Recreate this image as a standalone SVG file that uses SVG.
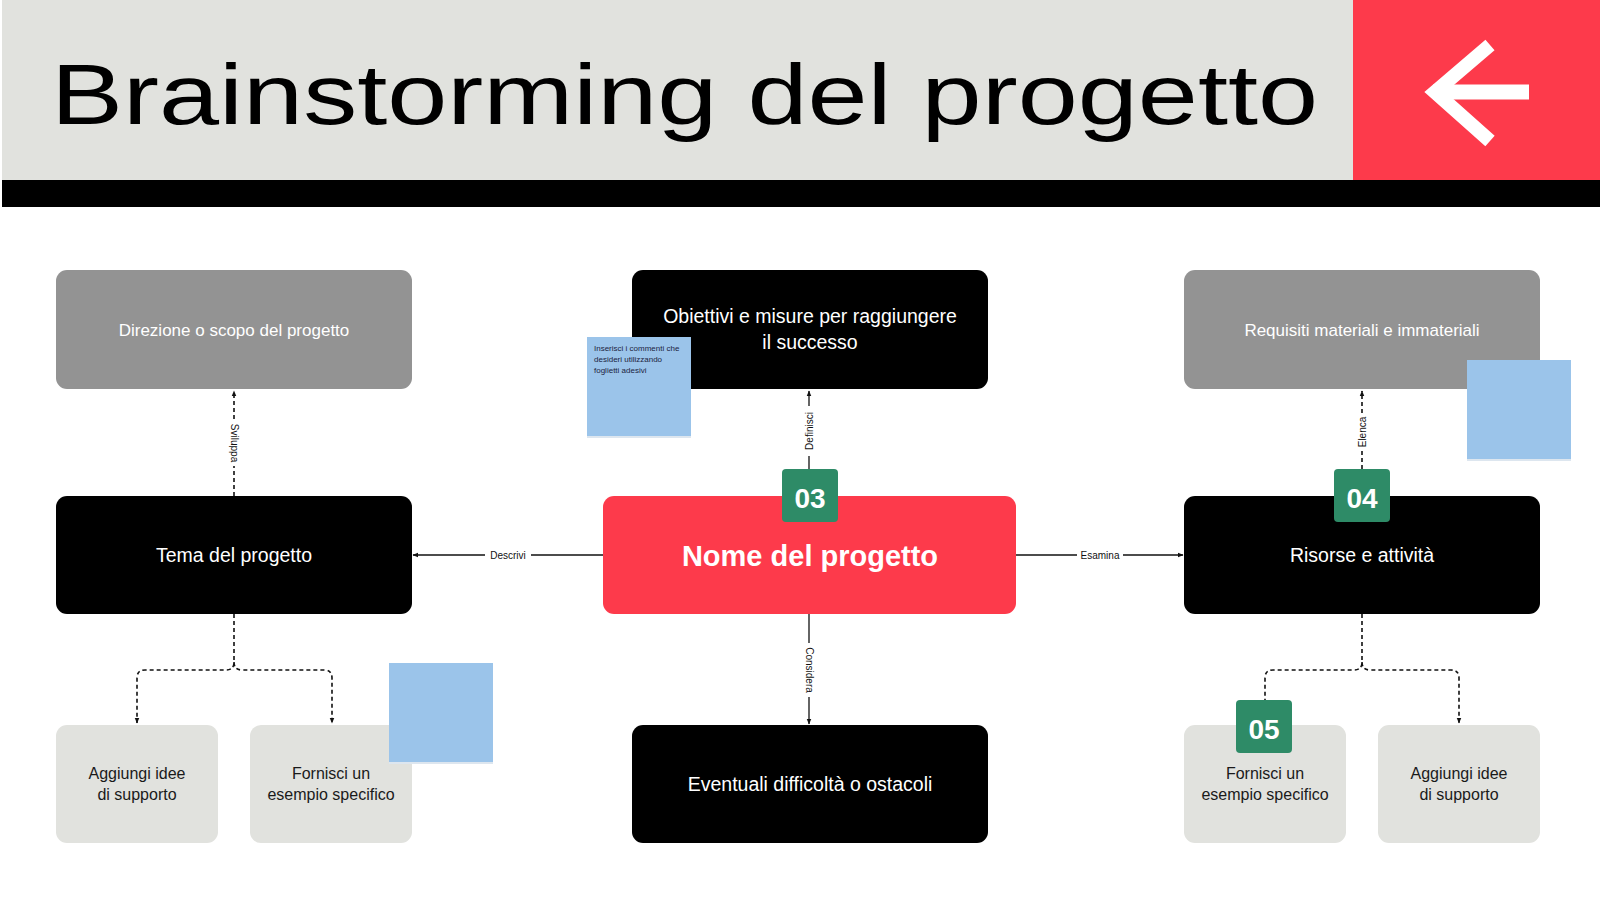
<svg xmlns="http://www.w3.org/2000/svg" width="1600" height="900" viewBox="0 0 1600 900">
<defs>
<style>
.t{font-family:"Liberation Sans",Arial,sans-serif;text-anchor:middle}
.wt{fill:#ffffff;font-size:19.5px}
.dk{fill:#1a1a1a;font-size:16px}
.lbl{font-family:"Liberation Sans",Arial,sans-serif;font-size:10px;fill:#111;text-anchor:middle;dominant-baseline:central}
.ln{fill:none;stroke:#111;stroke-width:1.3}
.ds{fill:none;stroke:#111;stroke-width:1.6;stroke-dasharray:4 3}
.badge{fill:#2e8b67}
.bt{font-family:"Liberation Sans",Arial,sans-serif;font-weight:bold;font-size:28px;fill:#fff;text-anchor:middle}
.sticky{fill:#9bc4ea}
</style>
<marker id="ah" viewBox="0 0 10 10" refX="9" refY="5" markerWidth="6" markerHeight="6" orient="auto-start-reverse" markerUnits="userSpaceOnUse">
<path d="M0,1 L10,5 L0,9 z" fill="#111"/>
</marker>
</defs>
<rect width="1600" height="900" fill="#ffffff"/>
<g id="header">
<rect x="2" y="0" width="1351" height="180" fill="#e1e2de"/>
<rect x="1353" y="0" width="247" height="180" fill="#fd3a4b"/>
<rect x="2" y="180" width="1598" height="27" fill="#000"/>
<text x="51" y="124" font-family="'Liberation Sans',Arial,sans-serif" font-size="86" fill="#000" textLength="1267" lengthAdjust="spacingAndGlyphs">Brainstorming del progetto</text>
<path d="M1490 45 L1435 92 L1490 141" fill="none" stroke="#fff" stroke-width="14"/>
<path d="M1433 92 H1529" fill="none" stroke="#fff" stroke-width="15"/>
</g>
<g id="connectors">
<line class="ln" x1="809" y1="469" x2="809" y2="391" marker-end="url(#ah)"/>
<line class="ln" x1="603" y1="555" x2="413" y2="555" marker-end="url(#ah)"/>
<line class="ln" x1="1016" y1="555" x2="1183" y2="555" marker-end="url(#ah)"/>
<line class="ln" x1="809" y1="614" x2="809" y2="724" marker-end="url(#ah)"/>
<line class="ds" x1="234" y1="496" x2="234" y2="391" marker-end="url(#ah)"/>
<line class="ds" x1="1362" y1="469" x2="1362" y2="391" marker-end="url(#ah)"/>
<path class="ds" d="M234 614 V662 Q234 670 226 670 H145 Q137 670 137 678 V723" marker-end="url(#ah)"/>
<path class="ds" d="M234 662 Q234 670 242 670 H324 Q332 670 332 678 V723" marker-end="url(#ah)"/>
<path class="ds" d="M1362 614 V662 Q1362 670 1354 670 H1273 Q1265 670 1265 678 V702"/>
<path class="ds" d="M1362 662 Q1362 670 1370 670 H1451 Q1459 670 1459 678 V723" marker-end="url(#ah)"/>
<rect x="803" y="406" width="12" height="50" fill="#fff"/>
<text class="lbl" transform="translate(809 431) rotate(-90)">Definisci</text>
<rect x="485" y="549" width="46" height="12" fill="#fff"/>
<text class="lbl" x="508" y="555">Descrivi</text>
<rect x="1077" y="549" width="46" height="12" fill="#fff"/>
<text class="lbl" x="1100" y="555">Esamina</text>
<rect x="803" y="643" width="12" height="54" fill="#fff"/>
<text class="lbl" transform="translate(809 670) rotate(90)">Considera</text>
<rect x="228" y="420" width="12" height="46" fill="#fff"/>
<text class="lbl" transform="translate(234 443) rotate(90)">Sviluppa</text>
<rect x="1356" y="413" width="12" height="38" fill="#fff"/>
<text class="lbl" transform="translate(1362 432) rotate(-90)">Elenca</text>
</g>
<g id="n-direzione">
<rect x="56" y="270" width="356" height="119" rx="11" fill="#939393"/>
<text class="t" x="234" y="336" font-size="17" fill="#fff">Direzione o scopo del progetto</text>
</g>
<g id="n-obiettivi">
<rect x="632" y="270" width="356" height="119" rx="11" fill="#000"/>
<text class="t wt" x="810" y="323">Obiettivi e misure per raggiungere</text>
<text class="t wt" x="810" y="349">il successo</text>
</g>
<g id="n-requisiti">
<rect x="1184" y="270" width="356" height="119" rx="11" fill="#939393"/>
<text class="t" x="1362" y="336" font-size="17" fill="#fff">Requisiti materiali e immateriali</text>
</g>
<g id="n-tema">
<rect x="56" y="496" width="356" height="118" rx="11" fill="#000"/>
<text class="t wt" x="234" y="562">Tema del progetto</text>
</g>
<g id="n-nome">
<rect x="603" y="496" width="413" height="118" rx="11" fill="#fd3a4b"/>
<text class="t" x="810" y="566" font-size="29" font-weight="bold" fill="#fff">Nome del progetto</text>
</g>
<g id="n-risorse">
<rect x="1184" y="496" width="356" height="118" rx="11" fill="#000"/>
<text class="t wt" x="1362" y="562">Risorse e attività</text>
</g>
<g id="n-eventuali">
<rect x="632" y="725" width="356" height="118" rx="11" fill="#000"/>
<text class="t wt" x="810" y="791">Eventuali difficoltà o ostacoli</text>
</g>
<g id="n-aggiungi-l">
<rect x="56" y="725" width="162" height="118" rx="11" fill="#e1e2de"/>
<text class="t dk" x="137" y="779">Aggiungi idee</text>
<text class="t dk" x="137" y="800">di supporto</text>
</g>
<g id="n-fornisci-l">
<rect x="250" y="725" width="162" height="118" rx="11" fill="#e1e2de"/>
<text class="t dk" x="331" y="779">Fornisci un</text>
<text class="t dk" x="331" y="800">esempio specifico</text>
</g>
<g id="n-fornisci-r">
<rect x="1184" y="725" width="162" height="118" rx="11" fill="#e1e2de"/>
<text class="t dk" x="1265" y="779">Fornisci un</text>
<text class="t dk" x="1265" y="800">esempio specifico</text>
</g>
<g id="n-aggiungi-r">
<rect x="1378" y="725" width="162" height="118" rx="11" fill="#e1e2de"/>
<text class="t dk" x="1459" y="779">Aggiungi idee</text>
<text class="t dk" x="1459" y="800">di supporto</text>
</g>
<g id="badge-03">
<rect class="badge" x="782" y="469" width="56" height="53" rx="4"/>
<text class="bt" x="810" y="508">03</text>
</g>
<g id="badge-04">
<rect class="badge" x="1334" y="469" width="56" height="53" rx="4"/>
<text class="bt" x="1362" y="508">04</text>
</g>
<g id="badge-05">
<rect class="badge" x="1236" y="700" width="56" height="53" rx="4"/>
<text class="bt" x="1264" y="739">05</text>
</g>
<g id="sticky-1">
<rect x="587" y="338" width="104" height="100" fill="#dde6ef"/>
<rect class="sticky" x="587" y="337" width="104" height="99"/>
<text font-family="'Liberation Sans',Arial,sans-serif" font-size="8" fill="#1c2340">
<tspan x="594" y="351">Inserisci i commenti che</tspan>
<tspan x="594" y="362">desideri utilizzando</tspan>
<tspan x="594" y="373">foglietti adesivi</tspan>
</text>
</g>
<g id="sticky-2">
<rect x="1467" y="361" width="104" height="100" fill="#dde6ef"/>
<rect class="sticky" x="1467" y="360" width="104" height="99"/>
</g>
<g id="sticky-3">
<rect x="389" y="664" width="104" height="100" fill="#dde6ef"/>
<rect class="sticky" x="389" y="663" width="104" height="99"/>
</g>
</svg>
